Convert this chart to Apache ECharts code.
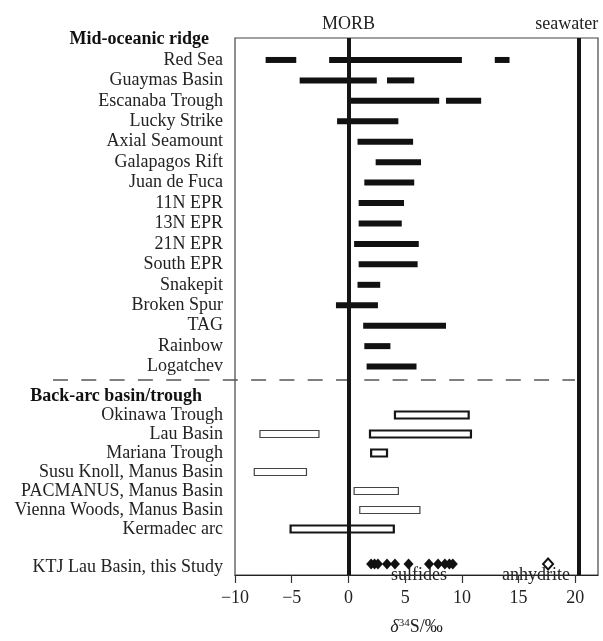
<!DOCTYPE html>
<html>
<head>
<meta charset="utf-8">
<script src="https://cdn.jsdelivr.net/npm/echarts@6/dist/echarts.min.js"></script>
<style>html,body{margin:0;padding:0;background:#fff;}</style>
</head>
<body>
<div id="sulfurChart" style="width:603px;height:641px;"></div>
<script>
// δ34S (‰) of hydrothermal sulfides
var morbValue = 0
var seawaterValue = 20.3
var xTicks = [-10, -5, 0, 5, 10, 15, 20]

var ridgeTitle = 'Mid-oceanic ridge'
var ridgeSites = ['Red Sea', 'Guaymas Basin', 'Escanaba Trough', 'Lucky Strike', 'Axial Seamount',
    'Galapagos Rift', 'Juan de Fuca', '11N EPR', '13N EPR', '21N EPR', 'South EPR', 'Snakepit',
    'Broken Spur', 'TAG', 'Rainbow', 'Logatchev']
var ridgeRanges = [
    [[-7.3, -4.6], [-1.7, 10.0], [12.9, 14.2]],
    [[-4.3, 2.5], [3.4, 5.8]],
    [[0.0, 8.0], [8.6, 11.7]],
    [[-1.0, 4.4]],
    [[0.8, 5.7]],
    [[2.4, 6.4]],
    [[1.4, 5.8]],
    [[0.9, 4.9]],
    [[0.9, 4.7]],
    [[0.5, 6.2]],
    [[0.9, 6.1]],
    [[0.8, 2.8]],
    [[-1.1, 2.6]],
    [[1.3, 8.6]],
    [[1.4, 3.7]],
    [[1.6, 6.0]]
]

var arcTitle = 'Back-arc basin/trough'
var arcSites = ['Okinawa Trough', 'Lau Basin', 'Mariana Trough', 'Susu Knoll, Manus Basin',
    'PACMANUS, Manus Basin', 'Vienna Woods, Manus Basin', 'Kermadec arc']
// heavy outlined boxes
var arcRangesMain = [[[4.1, 10.6]], [[1.9, 10.8]], [[2.0, 3.4]], [], [], [], [[-5.1, 4.0]]]
// light outlined boxes
var arcRangesOther = [[], [[-7.8, -2.6]], [], [[-8.3, -3.7]], [[0.5, 4.4]], [[1.0, 6.3]], []]

var studySite = 'KTJ Lau Basin, this Study'
var sulfides = [2.0, 2.3, 2.6, 3.4, 4.1, 5.3, 7.1, 7.9, 8.5, 8.9, 9.2]
var anhydrite = [17.6]

var serif = 'Liberation Serif'

function rangeData(sites, ranges){
    var out = []
    sites.forEach(function(s, i){
        ranges[i].forEach(function(r){ out.push([r[0], r[1], s]) })
    })
    return out
}

function rangeBar(h, fill, stroke, lw){
    return function(params, api){
        var a = api.coord([api.value(0), api.value(2)])
        var b = api.coord([api.value(1), api.value(2)])
        return {
            type: 'rect',
            shape: { x: a[0], y: a[1] - h / 2, width: b[0] - a[0], height: h },
            style: { fill: fill, stroke: stroke, lineWidth: lw }
        }
    }
}

function catLabels(){
    return {
        interval: 0, fontFamily: serif, fontSize: 18, color: '#222', margin: 12,
        formatter: function(v){
            if (v === ridgeTitle) return '{h1|' + v + '}'
            if (v === arcTitle) return '{h2|' + v + '}'
            return v
        },
        rich: {
            h1: { fontFamily: serif, fontSize: 18, fontWeight: 'bold', color: '#111', padding: [0, 14, 0, 0] },
            h2: { fontFamily: serif, fontSize: 18, fontWeight: 'bold', color: '#111', padding: [0, 21, 0, 0] }
        }
    }
}

var myChart = echarts.init(document.getElementById('sulfurChart'))
var option = {
    animation: false,
    grid: [
        { left: 235, right: 5, top: 38, bottom: 58, show: true, borderColor: '#444', borderWidth: 1.2 },
        { left: 235, right: 5, top: 29.3, bottom: 264.2 },
        { left: 235, right: 5, top: 386.5, bottom: 64.5 }
    ],
    xAxis: [
        {
            gridIndex: 0, type: 'value', min: -10, max: 22, interval: 5,
            axisLine: { lineStyle: { color: '#222', width: 1.2 } },
            axisTick: { show: true, length: 8, customValues: xTicks, lineStyle: { color: '#333', width: 1.2 } },
            axisLabel: {
                customValues: xTicks, margin: 14, fontFamily: serif, fontSize: 18, color: '#222',
                formatter: function(v){ return v < 0 ? '\u2212' + Math.abs(v) : String(v) }
            },
            splitLine: { show: false },
            name: '{i|δ}{s|34}{n|S/‰}',
            nameLocation: 'middle', nameGap: 43,
            nameTextStyle: {
                rich: {
                    i: { fontFamily: serif, fontSize: 18, fontStyle: 'italic', color: '#222' },
                    s: { fontFamily: serif, fontSize: 11, color: '#222', verticalAlign: 'top' },
                    n: { fontFamily: serif, fontSize: 18, color: '#222' }
                }
            }
        },
        { gridIndex: 1, type: 'value', min: -10, max: 22, show: false },
        { gridIndex: 2, type: 'value', min: -10, max: 22, show: false }
    ],
    yAxis: [
        { gridIndex: 0, type: 'value', min: 0, max: 1, show: false },
        {
            gridIndex: 1, type: 'category', inverse: true,
            data: [ridgeTitle].concat(ridgeSites),
            axisLine: { show: false }, axisTick: { show: false },
            axisLabel: catLabels()
        },
        {
            gridIndex: 2, type: 'category', inverse: true,
            data: [arcTitle].concat(arcSites, [''], [studySite]),
            axisLine: { show: false }, axisTick: { show: false },
            axisLabel: catLabels()
        }
    ],
    series: [
        {
            name: 'reference', type: 'scatter', xAxisIndex: 0, yAxisIndex: 0,
            data: [[morbValue, 0.5]], symbolSize: 0, silent: true, z: 5,
            markLine: {
                symbol: 'none', silent: true,
                lineStyle: { color: '#151515', width: 4, type: 'solid' },
                label: { position: 'end', formatter: '{b}', color: '#222', fontFamily: serif, fontSize: 18, distance: 5 },
                data: [
                    { name: 'MORB', xAxis: morbValue },
                    { name: 'seawater', xAxis: seawaterValue, label: { offset: [-12, 0] } }
                ]
            }
        },
        {
            name: 'ridge', type: 'custom', xAxisIndex: 1, yAxisIndex: 1, z: 2,
            encode: { x: [0, 1], y: 2 },
            renderItem: rangeBar(6, '#111', null, 0),
            data: rangeData(ridgeSites, ridgeRanges)
        },
        {
            name: 'backarc', type: 'custom', xAxisIndex: 2, yAxisIndex: 2, z: 2,
            encode: { x: [0, 1], y: 2 },
            renderItem: rangeBar(7, '#fff', '#151515', 2.2),
            data: rangeData(arcSites, arcRangesMain)
        },
        {
            name: 'backarc2', type: 'custom', xAxisIndex: 2, yAxisIndex: 2, z: 2,
            encode: { x: [0, 1], y: 2 },
            renderItem: rangeBar(7, '#fff', '#444', 1.2),
            data: rangeData(arcSites, arcRangesOther)
        },
        {
            name: 'sulfides', type: 'scatter', xAxisIndex: 2, yAxisIndex: 2, z: 3,
            symbol: 'diamond', symbolSize: [10, 11], symbolOffset: [0, -3],
            itemStyle: { color: '#111', opacity: 1 },
            data: sulfides.map(function(v){ return [v, studySite] })
        },
        {
            name: 'anhydrite', type: 'scatter', xAxisIndex: 2, yAxisIndex: 2, z: 3,
            symbol: 'diamond', symbolSize: [10, 11], symbolOffset: [0, -3],
            itemStyle: { color: '#fff', borderColor: '#111', borderWidth: 2, opacity: 1 },
            data: anhydrite.map(function(v){ return [v, studySite] })
        }
    ],
    graphic: [
        {
            type: 'line', silent: true,
            shape: { x1: 53, y1: 380, x2: 575, y2: 380 },
            style: { stroke: '#555', lineWidth: 1.3, lineDash: [15, 13.3] }
        },
        {
            type: 'text', left: 391, top: 566,
            style: { text: 'sulfides', fontFamily: serif, fontSize: 18, fill: '#222' }
        },
        {
            type: 'text', left: 502, top: 566,
            style: { text: 'anhydrite', fontFamily: serif, fontSize: 18, fill: '#222' }
        }
    ]
}
myChart.setOption(option, true)
</script>
</body>
</html>
